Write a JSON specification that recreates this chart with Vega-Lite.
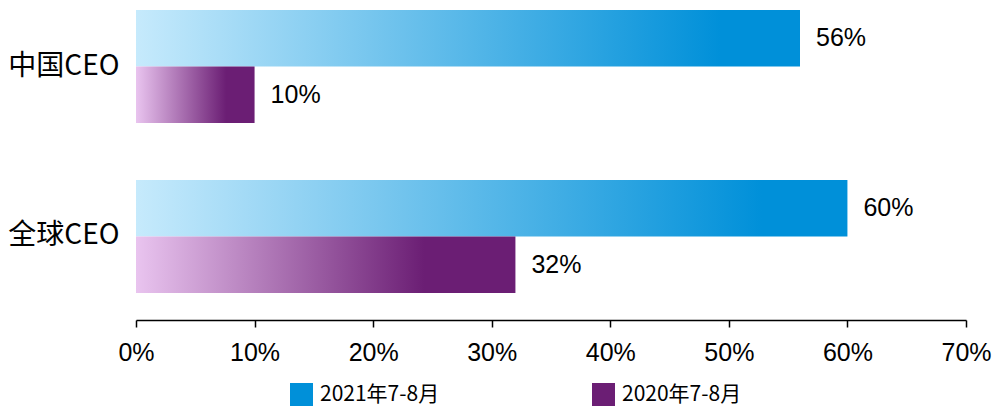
{
  "$schema": "https://vega.github.io/schema/vega-lite/v6.json",
  "autosize": {"type": "none"},
  "width": 830,
  "height": 303,
  "padding": {"left": 136, "top": 0, "right": 29, "bottom": 105},
  "background": "white",
  "config": {"view": {"stroke": null}},
  "data": {
    "values": [
      {"group": "中国CEO", "series": "2021年7-8月", "value": 0.56},
      {"group": "中国CEO", "series": "2020年7-8月", "value": 0.10},
      {"group": "全球CEO", "series": "2021年7-8月", "value": 0.60},
      {"group": "全球CEO", "series": "2020年7-8月", "value": 0.32}
    ]
  },
  "encoding": {
    "y": {
      "field": "group",
      "type": "nominal",
      "sort": ["中国CEO", "全球CEO"],
      "scale": {"paddingInner": 0.335, "paddingOuter": 0.0588},
      "axis": {
        "title": null,
        "ticks": false,
        "domain": false,
        "labelFont": "Noto Sans CJK SC",
        "labelFontSize": 28,
        "labelColor": "#000000",
        "labelPadding": 17
      }
    },
    "yOffset": {
      "field": "series",
      "type": "nominal",
      "sort": ["2021年7-8月", "2020年7-8月"],
      "scale": {"domain": ["2021年7-8月", "2020年7-8月"], "paddingInner": 0, "paddingOuter": 0}
    },
    "x": {
      "field": "value",
      "type": "quantitative",
      "scale": {"domain": [0, 0.7], "nice": false},
      "axis": {
        "title": null,
        "values": [0, 0.1, 0.2, 0.3, 0.4, 0.5, 0.6, 0.7],
        "format": ".0%",
        "labelFlush": false,
        "grid": false,
        "offset": 17,
        "domainColor": "#000000",
        "domainWidth": 1.5,
        "tickColor": "#000000",
        "tickWidth": 1.5,
        "tickSize": 7,
        "labelFont": "Liberation Sans",
        "labelFontSize": 25,
        "labelColor": "#000000",
        "labelPadding": 13
      }
    }
  },
  "layer": [
    {
      "mark": {"type": "bar", "opacity": 0},
      "encoding": {
        "color": {
          "field": "series",
          "type": "nominal",
          "sort": ["2021年7-8月", "2020年7-8月"],
          "scale": {"domain": ["2021年7-8月", "2020年7-8月"], "range": ["#0090d9", "#6b1e74"]},
          "legend": {
            "title": null,
            "orient": "none",
            "legendX": 154,
            "legendY": 383,
            "direction": "horizontal",
            "columns": 2,
            "columnPadding": 152,
            "symbolType": "square",
            "symbolSize": 529,
            "symbolStrokeWidth": 0,
            "symbolOpacity": 1,
            "labelFont": "Noto Sans CJK SC",
            "labelFontSize": 21,
            "labelColor": "#000000",
            "labelOffset": 7,
            "labelLimit": 300
          }
        }
      }
    },
    {
      "transform": [{"filter": "datum.series === '2021年7-8月'"}],
      "mark": {"type": "bar", "fill": {"gradient": "linear", "x1": 0, "y1": 0, "x2": 1, "y2": 0, "stops": [{"offset": 0, "color": "#c6eafc"}, {"offset": 0.88, "color": "#0090d9"}, {"offset": 1, "color": "#0090d9"}]}}
    },
    {
      "transform": [{"filter": "datum.series === '2020年7-8月'"}],
      "mark": {"type": "bar", "fill": {"gradient": "linear", "x1": 0, "y1": 0, "x2": 1, "y2": 0, "stops": [{"offset": 0, "color": "#e9c4ef"}, {"offset": 0.76, "color": "#6b1e74"}, {"offset": 1, "color": "#6b1e74"}]}}
    },
    {
      "mark": {"type": "text", "align": "left", "baseline": "middle", "dx": 16, "font": "Liberation Sans", "fontSize": 25, "color": "#000000"},
      "encoding": {
        "text": {"field": "value", "type": "quantitative", "format": ".0%"}
      }
    }
  ]
}
